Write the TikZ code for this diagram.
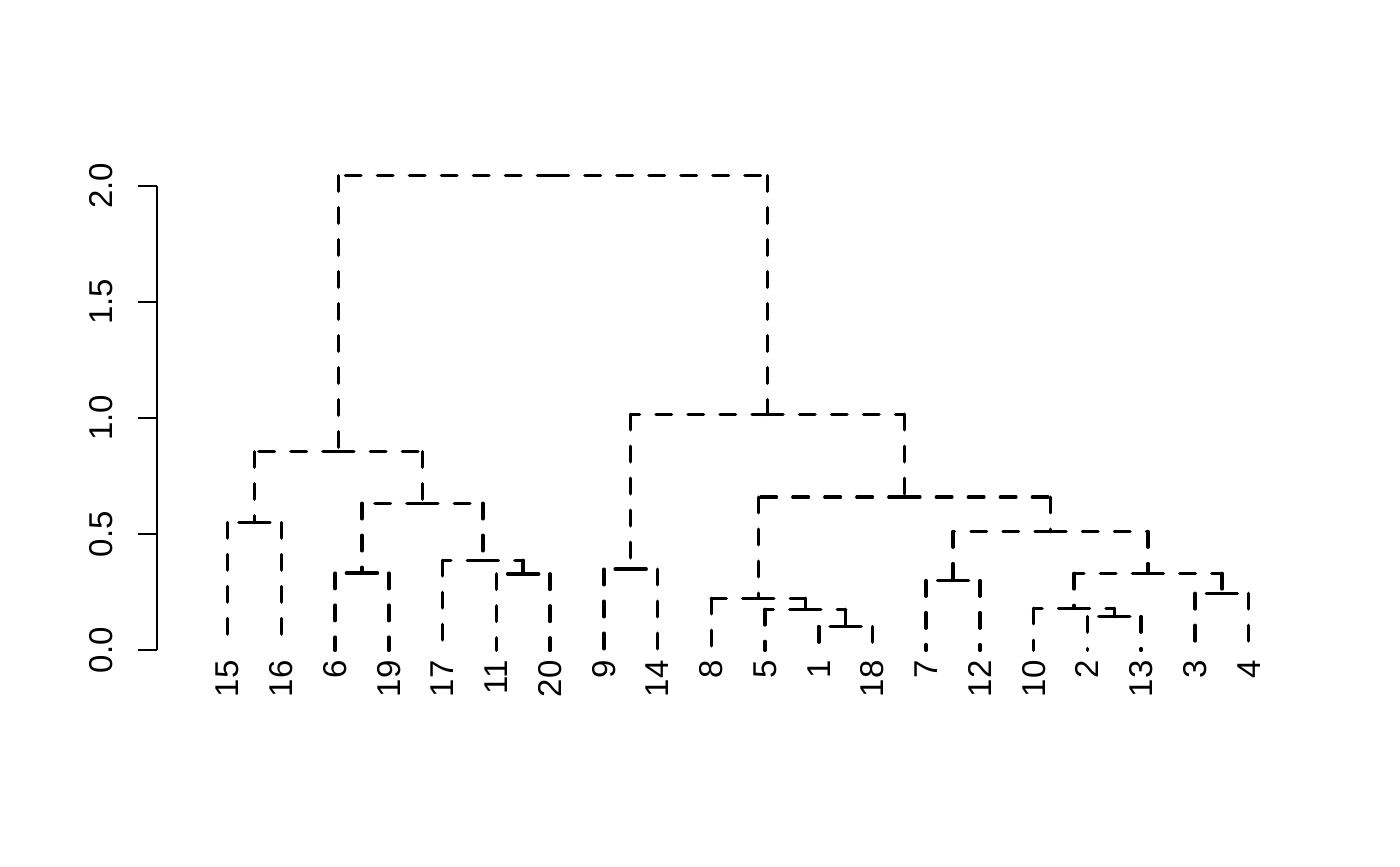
\documentclass[tikz,border=0pt]{standalone}
\usepackage{fontspec}
\setmainfont{Liberation Sans}
\newcommand\dedge[2]{\draw[dend] (#1) -- (#1 -| #2); \draw[dend] (#1 -| #2) -- (#2);}
\begin{document}
\begin{tikzpicture}[x=0.5pt,y=-0.5pt,
  dend/.style={line width=1.75pt, line cap=round, dash pattern=on 7.75pt off 8.25pt},
  axisline/.style={line width=1pt},
  lab/.style={font=\fontsize{16.5}{20}\selectfont, inner sep=0pt, rotate=90},
  leaflab/.style={lab, anchor=east},
  ticklab/.style={lab, anchor=base}]
\fill[white] (0,0) rectangle (1400,866);
\useasboundingbox (0,0) rectangle (1400,866);
% axis
\coordinate (a0) at (157,650.3);
\coordinate (a1) at (157,534.15);
\coordinate (a2) at (157,418.0);
\coordinate (a3) at (157,301.85);
\coordinate (a4) at (157,185.7);
\draw[axisline] (a0) -- (a4);
\foreach \n/\t in {a0/0.0,a1/0.5,a2/1.0,a3/1.5,a4/2.0}{
  \draw[axisline] (\n) -- ++(-18.7,0);
  \node[ticklab] (t\n) at ([xshift=-22.15pt]\n) {\t};
}
\begin{scope}[shift={(173.86,650.3)}, x=26.87pt, y=116.15pt]
\foreach \lab [count=\i] in {15,16,6,19,17,11,20,9,14,8,5,1,18,7,12,10,2,13,3,4}{
  \coordinate (l\lab) at (\i,0);
  \node[leaflab] (t\lab) at (\i,-0.0418) {\lab};
}
\coordinate (A) at (1.5,0.550);
\coordinate (B) at (3.5,0.332);
\coordinate (C) at (6.5,0.329);
\coordinate (D) at (5.75,0.387);
\coordinate (E) at (4.625,0.633);
\coordinate (F) at (3.0625,0.855);
\coordinate (G) at (8.5,0.349);
\coordinate (H) at (12.5,0.102);
\coordinate (I) at (11.75,0.176);
\coordinate (J) at (10.875,0.224);
\coordinate (K) at (14.5,0.300);
\coordinate (L) at (17.5,0.145);
\coordinate (M) at (16.75,0.181);
\coordinate (N) at (19.5,0.245);
\coordinate (O) at (18.125,0.331);
\coordinate (P) at (16.3125,0.511);
\coordinate (Q) at (13.59375,0.659);
\coordinate (R) at (11.046875,1.016);
\coordinate (S) at (7.0546875,2.043);
\dedge{A}{l15}\dedge{A}{l16}
\dedge{B}{l6}\dedge{B}{l19}
\dedge{C}{l11}\dedge{C}{l20}
\dedge{D}{l17}\dedge{D}{C}
\dedge{E}{B}\dedge{E}{D}
\dedge{F}{A}\dedge{F}{E}
\dedge{G}{l9}\dedge{G}{l14}
\dedge{H}{l1}\dedge{H}{l18}
\dedge{I}{l5}\dedge{I}{H}
\dedge{J}{l8}\dedge{J}{I}
\dedge{K}{l7}\dedge{K}{l12}
\dedge{L}{l2}\dedge{L}{l13}
\dedge{M}{l10}\dedge{M}{L}
\dedge{N}{l3}\dedge{N}{l4}
\dedge{O}{M}\dedge{O}{N}
\dedge{P}{K}\dedge{P}{O}
\dedge{Q}{J}\dedge{Q}{P}
\dedge{R}{G}\dedge{R}{Q}
\dedge{S}{F}\dedge{S}{R}
\end{scope}
\end{tikzpicture}
\end{document}
